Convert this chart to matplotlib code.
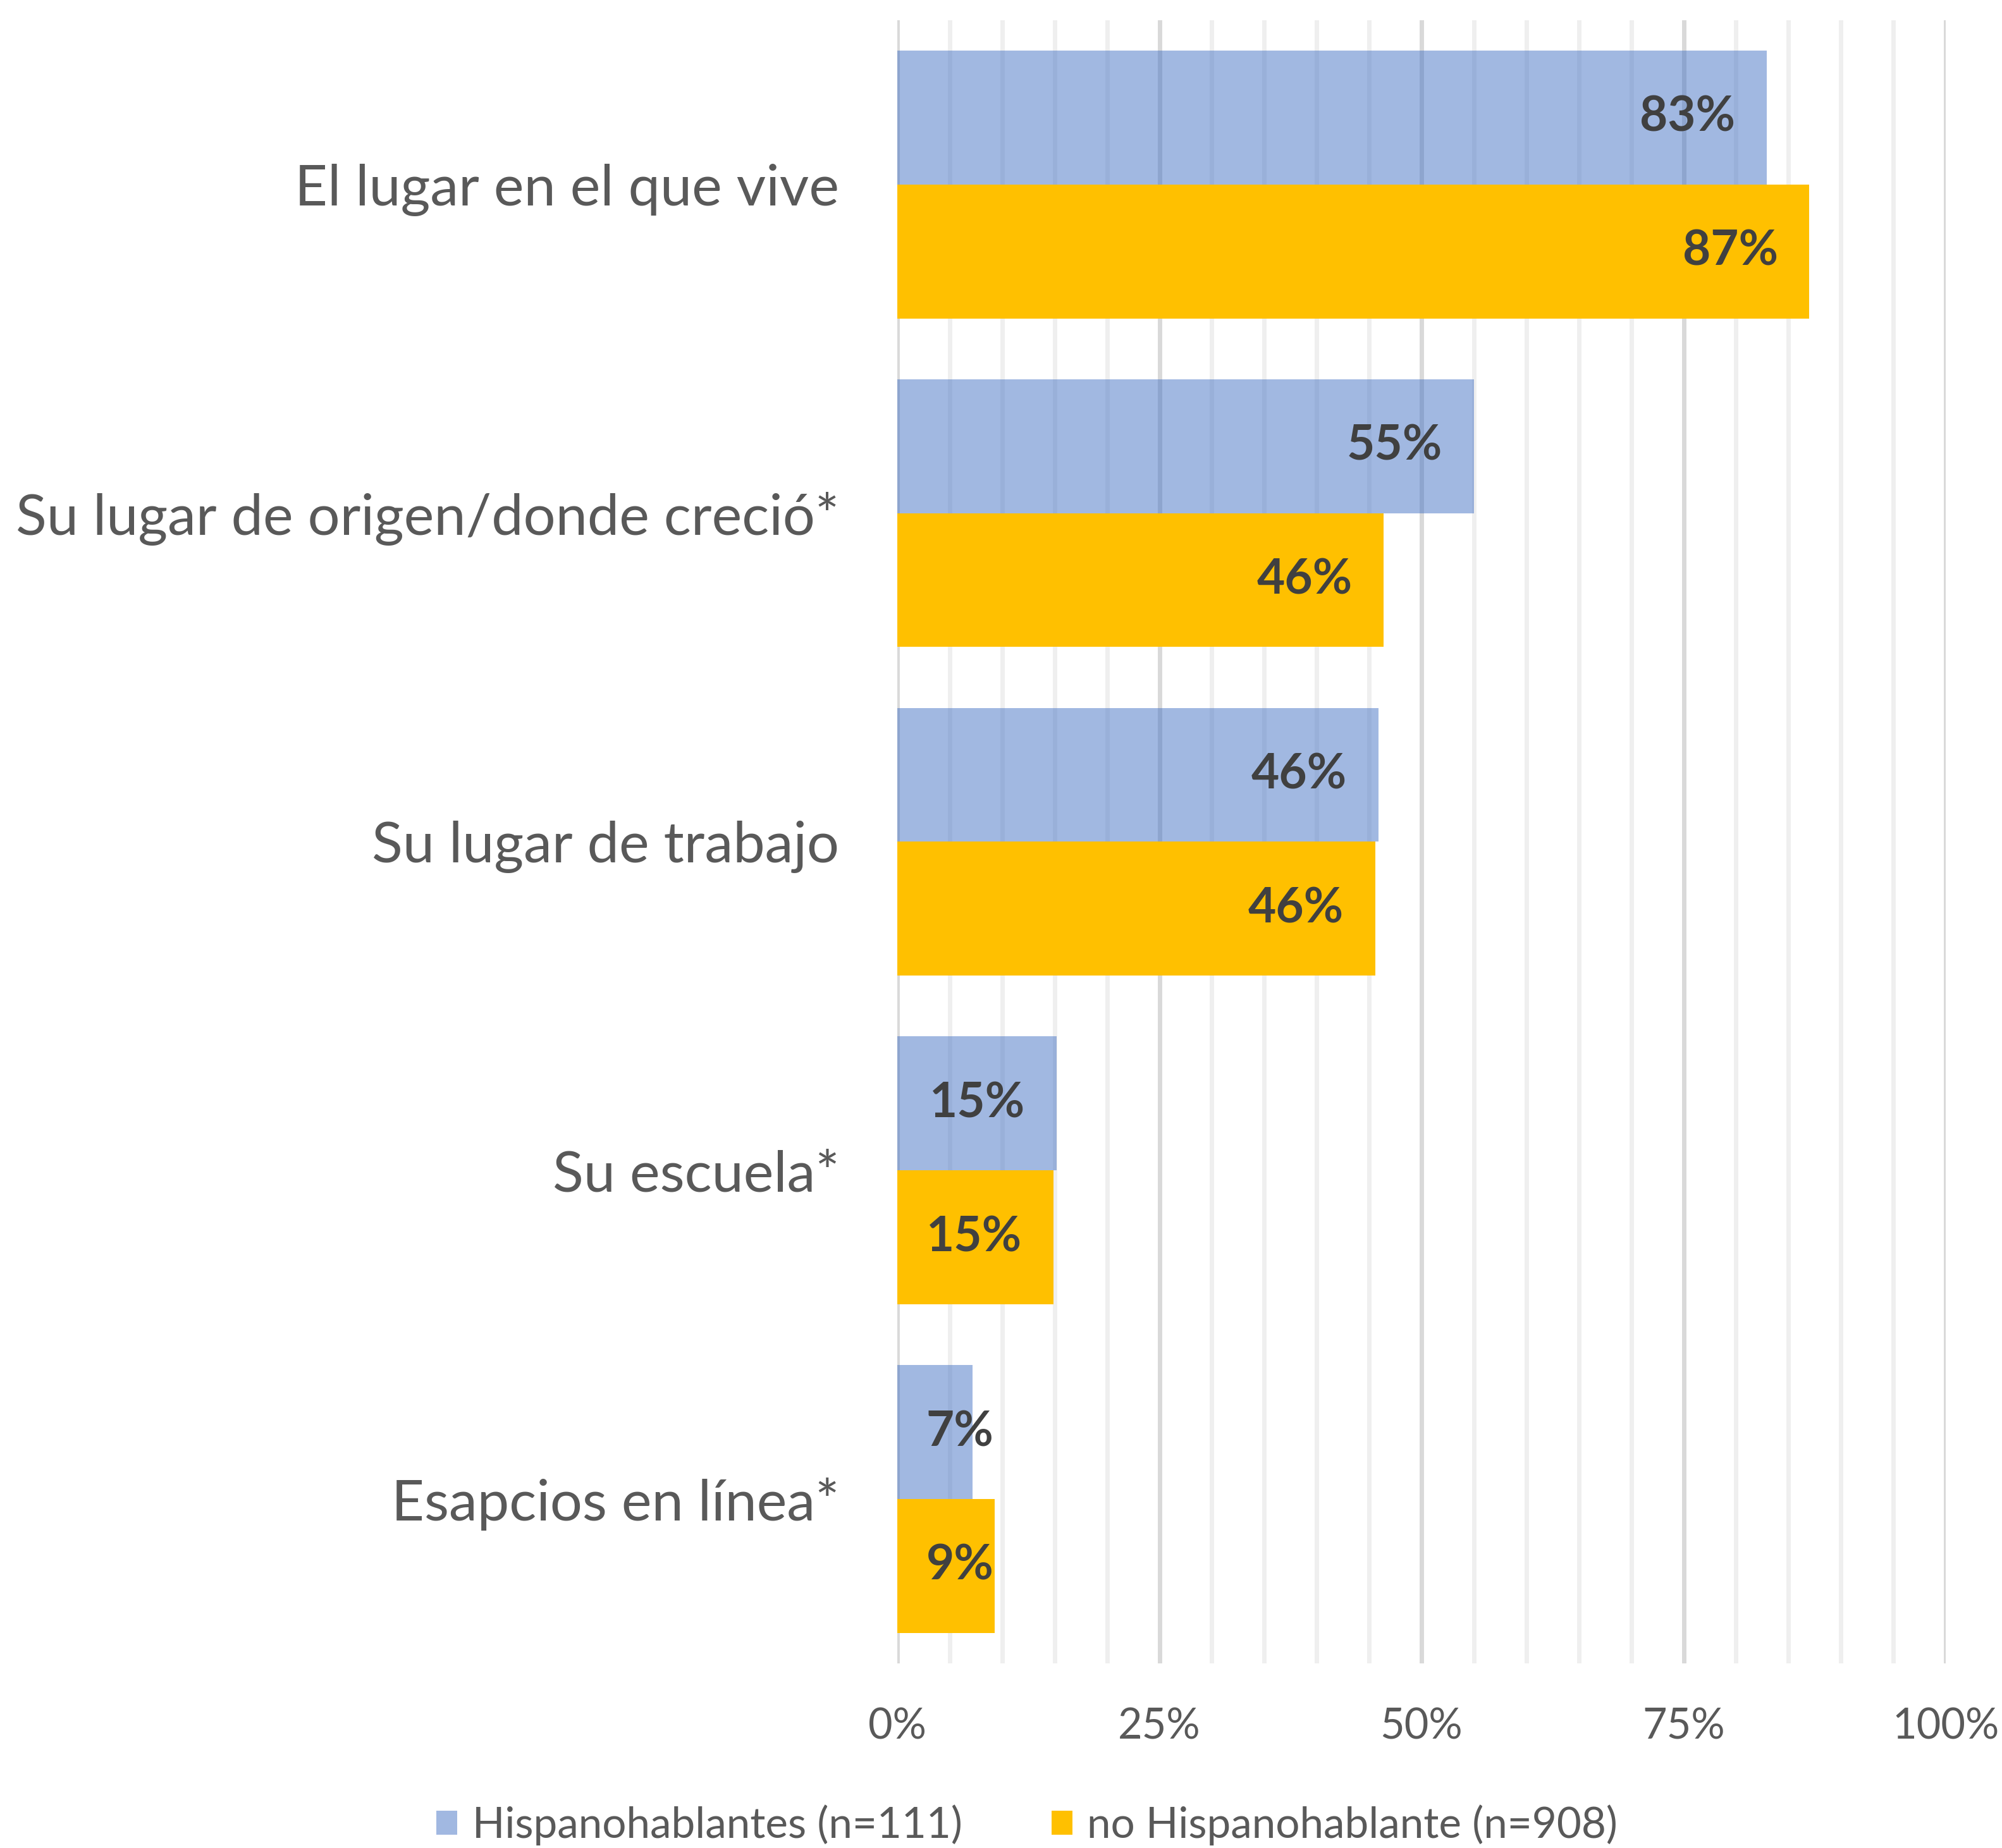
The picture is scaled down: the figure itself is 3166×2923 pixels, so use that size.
import matplotlib.pyplot as plt
from matplotlib.ticker import MultipleLocator, FixedLocator

categories = ["El lugar en el que vive", "Su lugar de origen/donde creció*",
              "Su lugar de trabajo", "Su escuela*", "Esapcios en línea*"]
hispano = [82.9, 55.0, 45.9, 15.2, 7.2]
no_hispano = [87.0, 46.4, 45.6, 14.9, 9.3]
xticks = [0, 25, 50, 75, 100]
xticklabels = ["0%", "25%", "50%", "75%", "100%"]
series_names = ["Hispanohablantes (n=111)", "no Hispanohablante (n=908)"]

plt.rcParams['font.family'] = ['Lato', 'DejaVu Sans']

fig = plt.figure(figsize=(31.66, 29.23), dpi=100)
ax = fig.add_axes([0.4482, 0.0999, 0.5237, 0.8892])

h = 0.4075
y = list(range(len(categories)))
b1 = ax.barh([i - h / 2 for i in y], hispano, height=h, color="#4472C4", alpha=0.5,
             zorder=3, label=series_names[0])
b2 = ax.barh([i + h / 2 for i in y], no_hispano, height=h, color="#FFC000",
             zorder=3, label=series_names[1])

# etiquetas de datos
for bars, vals in ((b1, hispano), (b2, no_hispano)):
    for bar, v in zip(bars, vals):
        xr = max(v - 3.0, 9.2)
        ax.text(xr, bar.get_y() + bar.get_height() / 2, f"{round(v)}%",
                ha="right", va="center", fontsize=55, fontweight="bold",
                color="#404040", zorder=5)

ax.set_xlim(0, 100)
ax.set_ylim(len(categories) - 0.5, -0.5)
ax.set_yticks(y)
ax.set_yticklabels(categories, fontsize=64.8, color="#595959")
ax.xaxis.set_major_locator(FixedLocator(xticks))
ax.set_xticklabels(xticklabels, fontsize=48, color="#595959")
ax.xaxis.set_minor_locator(MultipleLocator(5))
ax.tick_params(axis="both", which="both", length=0)
ax.tick_params(axis="y", pad=66)
ax.tick_params(axis="x", pad=50)

ax.grid(True, axis="x", which="minor", color="#EFEFEF", linewidth=5, zorder=1)
ax.grid(True, axis="x", which="major", color="#D9D9D9", linewidth=5, zorder=1)
ax.set_axisbelow(True)
for s in ax.spines.values():
    s.set_visible(False)

fig.legend(handles=[b1, b2], loc="center", bbox_to_anchor=(0.513, 0.0124), ncol=2,
           frameon=False, fontsize=48.5, handlelength=0.49, handleheight=0.49,
           handletextpad=0.35, columnspacing=2.1, labelcolor="#595959")

plt.savefig("out.png", dpi=100)
